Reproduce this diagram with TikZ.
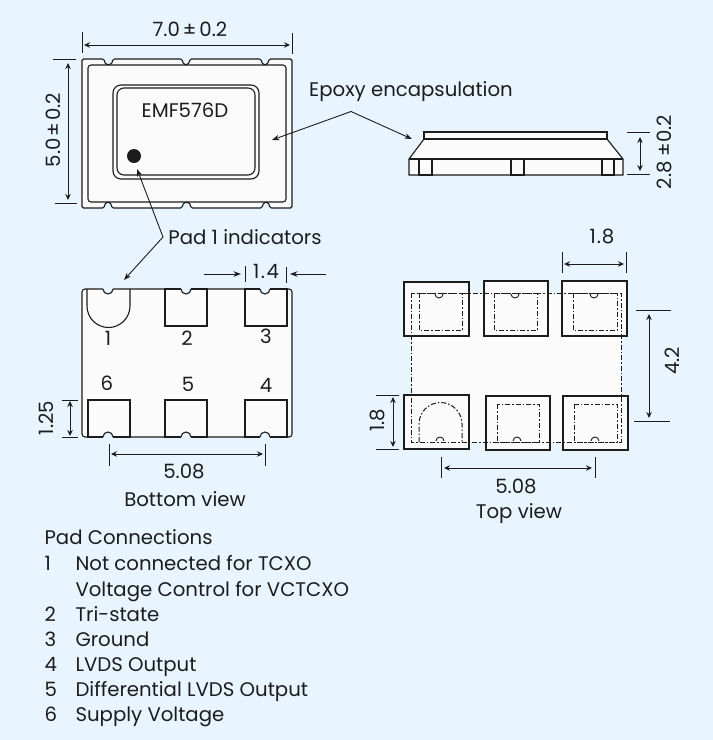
\documentclass[tikz,border=0pt]{standalone}
\usepackage{fontspec}
\setmainfont{Poppins}
\usetikzlibrary{arrows.meta}
\definecolor{panelblue}{HTML}{E8F5FF}
\definecolor{partwhite}{HTML}{FBFBFB}
\definecolor{ink}{HTML}{1C1C1C}
\begin{document}
\begin{tikzpicture}[x=1pt,y=-1pt,ink,line width=1.1pt,
    dim/.style={{Stealth[length=6pt,width=5.5pt]}-{Stealth[length=6pt,width=5.5pt]},line width=0.9pt},
    lead/.style={-{Stealth[length=7.5pt,width=5.5pt]},line width=0.9pt},
    ext/.style={line width=1pt},
    part/.style={draw=ink,fill=partwhite},
    padbox/.style={draw=ink,fill=partwhite,rectangle,text height=0pt},
    hidden/.style={line width=1pt,dash pattern=on 5pt off 2pt on 1.5pt off 2pt},
    every node/.style={font=\fontsize{19.7}{23}\selectfont,inner sep=0pt,text height=13.8pt,text depth=0pt}]
  \fill[panelblue] (0,0) rectangle (713,740);
  \useasboundingbox (0,0) rectangle (713,740);

  % package from above
  \draw[part,rounded corners=1.5pt] (82,59) -- (104,59) -- (105.5,64.5) -- (111.5,64.5) -- (113,59)
    -- (182,59) -- (183.5,64.5) -- (188.5,64.5) -- (190,59) -- (261,59) -- (262.5,64.5) -- (267.5,64.5) -- (269,59)
    -- (292,59) -- (292,208) -- (270,208) -- (268.5,202.5) -- (263.5,202.5) -- (262,208)
    -- (191,208) -- (189.5,202.5) -- (183.5,202.5) -- (182,208) -- (112,208) -- (110.5,202.5) -- (105.5,202.5) -- (104,208)
    -- (82,208) -- cycle;
  \draw[rounded corners=3pt] (88,65) rectangle (286,202);
  \draw[rounded corners=8pt] (113,85) rectangle (259,179);
  \draw[rounded corners=7pt] (117,88) rectangle (255,175);
  \node[circle,fill=ink,minimum size=14pt,text height=0pt] (dot) at (134,156) {};
  \node (name) at (185,111) {EMF576D};

  \coordinate (w1) at (82,32);
  \coordinate (w2) at (82,53);
  \coordinate (w3) at (292,33);
  \coordinate (w4) at (292,54);
  \draw[ext] (w1) -- (w2);
  \draw[ext] (w3) -- (w4);
  \coordinate (wa) at (84,45);
  \coordinate (wb) at (290,45);
  \draw[dim] (wa) -- (wb);
  \node (wlabel) at (190,30) {7.0\kern3pt±\kern3pt0.2};

  \coordinate (h1) at (53,59);
  \coordinate (h2) at (76,59);
  \coordinate (h3) at (55,203);
  \coordinate (h4) at (77,203);
  \draw[ext] (h1) -- (h2);
  \draw[ext] (h3) -- (h4);
  \coordinate (ha) at (68,63);
  \coordinate (hb) at (68,200);
  \draw[dim] (ha) -- (hb);
  \node[rotate=90] (hlabel) at (54,130) {5.0\kern2pt±\kern2pt0.2};

  % side view
  \draw[part] (424,139) -- (607,139) -- (623,159) -- (623,175) -- (409,175) -- (409,159) -- cycle;
  \draw[part] (424,132) rectangle (607,139);
  \draw (409,159) -- (623,159);
  \draw (419,159) rectangle (432,175);
  \draw (511,159) rectangle (524,175);
  \draw (602,159) rectangle (614,175);

  \coordinate (t1) at (627,132);
  \coordinate (t2) at (650,132);
  \coordinate (t3) at (627,174);
  \coordinate (t4) at (650,174);
  \draw[ext] (t1) -- (t2);
  \draw[ext] (t3) -- (t4);
  \coordinate (ta) at (640,137);
  \coordinate (tb) at (640,171);
  \draw[dim] (ta) -- (tb);
  \node[rotate=90] (tlabel) at (665,152) {2.8 ±0.2};

  \node (epoxy) at (411,90) {Epoxy encapsulation};
  \coordinate (eapex) at (351,111.5);
  \coordinate (etop) at (272,140);
  \coordinate (eside) at (412,139);
  \draw[lead] (eapex) -- (etop);
  \draw[lead] (eapex) -- (eside);

  \node (indicators) at (245,238) {Pad 1 indicators};
  \coordinate (iapex) at (163,237);
  \coordinate (idot) at (137,169);
  \coordinate (ipad) at (124,280);
  \draw[lead] (iapex) -- (idot);
  \draw[lead] (iapex) -- (ipad);

  % bottom view
  \draw[part,rounded corners=3pt] (82,289) rectangle (292,437);
  \draw (87,289) -- (87,306) arc[start angle=180,end angle=360,radius=21.5pt] -- (130,289);
  \node[padbox,minimum width=42pt,minimum height=37pt] (pad2) at (186,307.5) {};
  \node[padbox,minimum width=42pt,minimum height=37pt] (pad3) at (266,307.5) {};
  \node[padbox,minimum width=42pt,minimum height=37pt] (pad6) at (109,418.5) {};
  \node[padbox,minimum width=42pt,minimum height=37pt] (pad5) at (186,418.5) {};
  \node[padbox,minimum width=42pt,minimum height=37pt] (pad4) at (266,418.5) {};
  \foreach \nx in {108,186,265}{
    \draw[panelblue,line width=1.8pt] (\nx-5,289) -- (\nx+5,289);
    \draw[fill=panelblue] (\nx-5,289) arc[start angle=180,end angle=360,radius=5pt];
    \draw[panelblue,line width=1.8pt] (\nx-5,437) -- (\nx+5,437);
    \draw[fill=panelblue] (\nx-5,437) arc[start angle=180,end angle=0,radius=5pt];
  }
  \node (num1) at (108,339) {1};
  \node (num2) at (187,339) {2};
  \node (num3) at (266,337) {3};
  \node (num6) at (107,384) {6};
  \node (num5) at (188,385) {5};
  \node (num4) at (266,386) {4};

  \coordinate (p1) at (245,266);
  \coordinate (p2) at (245,282);
  \coordinate (p3) at (286,267);
  \coordinate (p4) at (286,283);
  \draw[ext] (p1) -- (p2);
  \draw[ext] (p3) -- (p4);
  \coordinate (pl) at (204,274);
  \coordinate (pm) at (241,274);
  \coordinate (pr) at (326,274);
  \coordinate (pn) at (290,274);
  \draw[lead] (pl) -- (pm);
  \draw[lead] (pr) -- (pn);
  \node (plabel) at (266,272) {1\kern1.5pt.\kern1.5pt4};

  \coordinate (c1) at (62,400);
  \coordinate (c2) at (78,400);
  \coordinate (c3) at (62,437);
  \coordinate (c4) at (78,437);
  \draw[ext] (c1) -- (c2);
  \draw[ext] (c3) -- (c4);
  \coordinate (ca) at (70,401);
  \coordinate (cb) at (70,436);
  \draw[dim] (ca) -- (cb);
  \node[rotate=90] (clabel) at (47,418) {1.25};

  \coordinate (s1) at (109,444);
  \coordinate (s2) at (109,466);
  \coordinate (s3) at (265,444);
  \coordinate (s4) at (265,466);
  \draw[ext] (s1) -- (s2);
  \draw[ext] (s3) -- (s4);
  \coordinate (sa) at (111,454);
  \coordinate (sb) at (263,454);
  \draw[dim] (sa) -- (sb);
  \node (slabel) at (184,472) {5.08};
  \node (bottomview) at (185,500) {Bottom view};

  % footprint
  \fill[partwhite] (411,293) rectangle (621,442);
  \node[padbox,minimum width=65pt,minimum height=54pt] (land1) at (436.5,422) {};
  \node[padbox,minimum width=64pt,minimum height=54pt] (land2) at (518,423) {};
  \node[padbox,minimum width=65pt,minimum height=54pt] (land3) at (595.5,423) {};
  \node[padbox,minimum width=65pt,minimum height=54pt] (land4) at (436.5,309) {};
  \node[padbox,minimum width=64pt,minimum height=55pt] (land5) at (516,308.5) {};
  \node[padbox,minimum width=65pt,minimum height=55pt] (land6) at (594.5,308.5) {};
  \draw[hidden] (411,293) rectangle (621,442);
  \draw[hidden] (419,293) rectangle (462,330);
  \draw[hidden] (494,293) rectangle (537,330);
  \draw[hidden] (573,293) rectangle (617,330);
  \draw[hidden] (419,442) -- (419,424) arc[start angle=180,end angle=0,radius=21.5pt] -- (462,442);
  \draw[hidden] (497,404) rectangle (539,442);
  \draw[hidden] (574,404) rectangle (617,442);
  \foreach \nx in {439,515,594}{
    \draw[line width=0.9pt] (\nx-4,294) arc[start angle=180,end angle=360,radius=4pt];
  }
  \foreach \nx in {440,517,595}{
    \draw[line width=0.9pt] (\nx-4,441) arc[start angle=180,end angle=0,radius=4pt];
  }

  \coordinate (f1) at (562,252);
  \coordinate (f2) at (562,273);
  \coordinate (f3) at (626,252);
  \coordinate (f4) at (626,273);
  \draw[ext] (f1) -- (f2);
  \draw[ext] (f3) -- (f4);
  \coordinate (fa) at (564,264);
  \coordinate (fb) at (624,264);
  \draw[dim] (fa) -- (fb);
  \node (flabel) at (602,237) {1\kern1pt.\kern1pt8};

  \coordinate (g1) at (636,310);
  \coordinate (g2) at (671,310);
  \coordinate (g3) at (634,421);
  \coordinate (g4) at (670,421);
  \draw[ext] (g1) -- (g2);
  \draw[ext] (g3) -- (g4);
  \coordinate (ga) at (649,314);
  \coordinate (gb) at (649,418);
  \draw[dim] (ga) -- (gb);
  \node[rotate=90] (glabel) at (673,361) {4.2};

  \coordinate (k1) at (376,395);
  \coordinate (k2) at (399,395);
  \coordinate (k3) at (376,449);
  \coordinate (k4) at (399,449);
  \draw[ext] (k1) -- (k2);
  \draw[ext] (k3) -- (k4);
  \coordinate (ka) at (393,397);
  \coordinate (kb) at (393,447);
  \draw[dim] (ka) -- (kb);
  \node[rotate=90] (klabel) at (378,420) {1.8};

  \coordinate (m1) at (441,457);
  \coordinate (m2) at (441,478);
  \coordinate (m3) at (595,457);
  \coordinate (m4) at (595,478);
  \draw[ext] (m1) -- (m2);
  \draw[ext] (m3) -- (m4);
  \coordinate (ma) at (444,468);
  \coordinate (mb) at (592,468);
  \draw[dim] (ma) -- (mb);
  \node (mlabel) at (516,487) {5.08};
  \node (topview) at (519,512) {Top view};

  % pad list
  \node[anchor=west] (listhead) at (44,538) {Pad Connections};
  \foreach \ny/\nnum/\ntext in {564/1/Not connected for TCXO,615/2/Tri-state,640/3/Ground,665/4/LVDS Output,690/5/Differential LVDS Output,715/6/Supply Voltage}{
    \node[anchor=west] (num\nnum) at (44,\ny) {\nnum};
    \node[anchor=west] (text\nnum) at (75,\ny) {\ntext};
  }
  \node[anchor=west] (textvc) at (75,590) {Voltage Control for VCTCXO};
\end{tikzpicture}
\end{document}
